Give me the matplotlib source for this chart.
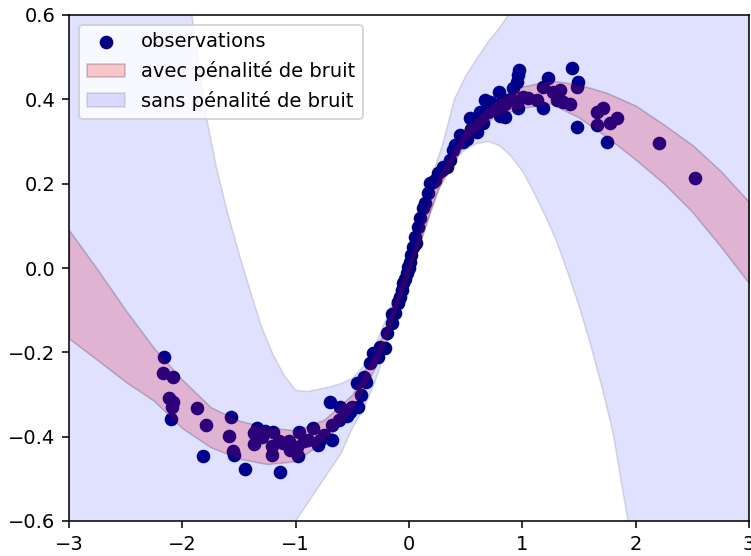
import matplotlib
matplotlib.use("Agg")
import matplotlib.pyplot as plt

# observations
x_obs = [-2.16, -2.17, -2.08, -2.115, -2.08, -2.094, -2.10, -1.87, -1.79, -1.82,
         -1.57, -1.59, -1.55, -1.54, -1.447, -1.344, -1.37, -1.37, -1.27, -1.197,
         -1.21, -1.21, -1.14, -1.11, -1.05, -0.977, -0.968, -0.99, -0.844, -0.89,
         -0.785, -0.80, -0.68, -0.68, -0.697, -0.61, -0.52, -0.447, -0.46, -0.40,
         -0.344, -0.314, -1.30, -1.15, -1.06, -0.93, -0.75, -0.62, -0.55, -0.50,
         -0.42, -0.38, -1.02,
         -0.27, -0.256, -0.212, -0.197, -0.153, -0.124, -0.094, -0.079, -0.064, -0.05,
         -0.035, -0.02, -0.006, 0.009, 0.02, 0.038, 0.053, 0.082, 0.097, 0.126,
         0.141, 0.17, 0.185, 0.215, 0.23, 0.259, 0.289, 0.333, 0.36, 0.39,
         0.406, 0.45, 0.509, 0.538, 0.597, 0.627, 0.656, 0.67, 0.715, 0.79,
         0.774, 0.847, 0.80, 0.862, 0.92, 0.95, 0.965, 0.974, 0.965, 1.009,
         1.053, 1.127, 1.186, 1.186, 1.23, 1.273, 1.303, 1.332, 1.362, 1.42,
         1.436, 1.48, 1.494, 1.48, 1.656, 1.715, 1.656, 1.745, 1.774, 1.833,
         2.21, 2.52, 0.55, 0.60, 0.70, 0.75, 0.85, 0.90, 0.48, -0.15,
         -0.10, 0.0, 0.06, 0.30]
y_obs = [-0.21, -0.25, -0.258, -0.309, -0.317, -0.329, -0.359, -0.333, -0.372, -0.447,
         -0.353, -0.398, -0.434, -0.443, -0.477, -0.38, -0.392, -0.417, -0.386, -0.388,
         -0.422, -0.443, -0.483, -0.416, -0.432, -0.447, -0.388, -0.424, -0.38, -0.408,
         -0.408, -0.42, -0.408, -0.372, -0.317, -0.329, -0.341, -0.329, -0.273, -0.258,
         -0.226, -0.202, -0.40, -0.41, -0.41, -0.41, -0.395, -0.36, -0.35, -0.33,
         -0.30, -0.27, -0.425,
         -0.21, -0.187, -0.19, -0.155, -0.131, -0.107, -0.084, -0.068, -0.052, -0.036,
         -0.025, -0.013, 0.003, 0.015, 0.03, 0.05, 0.074, 0.098, 0.118, 0.142,
         0.153, 0.177, 0.201, 0.205, 0.209, 0.225, 0.232, 0.24, 0.256, 0.28,
         0.292, 0.315, 0.307, 0.355, 0.323, 0.371, 0.343, 0.398, 0.394, 0.418,
         0.387, 0.359, 0.36, 0.398, 0.426, 0.442, 0.458, 0.47, 0.379, 0.406,
         0.402, 0.398, 0.379, 0.43, 0.45, 0.418, 0.398, 0.422, 0.394, 0.388,
         0.474, 0.43, 0.442, 0.335, 0.371, 0.379, 0.339, 0.30, 0.343, 0.355,
         0.297, 0.213, 0.33, 0.35, 0.37, 0.38, 0.39, 0.40, 0.30, -0.11,
         -0.08, 0.0, 0.06, 0.24]

# band "avec pénalité de bruit"
x_noise = [-3, -2.75, -2.5, -2.25, -2, -1.75, -1.5, -1.25, -1, -0.75, -0.5, -0.25, 0,
           0.25, 0.5, 0.75, 1, 1.25, 1.5, 1.75, 2, 2.25, 2.5, 2.75, 3]
upper_noise = [0.09, -0.003, -0.10, -0.19, -0.265, -0.33, -0.362, -0.378, -0.385, -0.36,
               -0.30, -0.17, 0.018, 0.215, 0.335, 0.395, 0.43, 0.445, 0.435, 0.415,
               0.385, 0.34, 0.292, 0.23, 0.157]
lower_noise = [-0.167, -0.218, -0.27, -0.315, -0.38, -0.425, -0.452, -0.465, -0.458, -0.41,
               -0.34, -0.21, -0.018, 0.185, 0.30, 0.36, 0.38, 0.39, 0.357, 0.31,
               0.257, 0.20, 0.133, 0.051, -0.036]

# band "sans pénalité de bruit"
x_free = [-3, -2.5, -2.0, -1.9, -1.8, -1.7, -1.6, -1.5, -1.4, -1.3, -1.2, -1.1, -1.0,
          -0.9, -0.8, -0.7, -0.6, -0.5, -0.4, -0.3, -0.2, -0.1, 0.0, 0.1, 0.2, 0.3,
          0.4, 0.5, 0.6, 0.7, 0.8, 0.9, 1.0, 1.1, 1.2, 1.3, 1.4, 1.5, 1.6, 1.7, 1.8,
          1.9, 2.0, 2.5, 3]
upper_free = [1.3, 1.0, 0.77, 0.57, 0.375, 0.24, 0.13, 0.035, -0.055, -0.14, -0.205,
              -0.255, -0.29, -0.293, -0.288, -0.282, -0.274, -0.262, -0.232, -0.185,
              -0.12, -0.045, 0.035, 0.125, 0.215, 0.296, 0.40, 0.455, 0.497, 0.537,
              0.57, 0.61, 0.65, 0.69, 0.73, 0.77, 0.81, 0.85, 0.89, 0.93, 0.97,
              1.0, 1.03, 1.2, 1.4]
lower_free = [-1.5, -1.2, -1.0, -0.95, -0.9, -0.85, -0.8, -0.75, -0.71, -0.68, -0.66,
              -0.63, -0.6, -0.56, -0.52, -0.48, -0.44, -0.38, -0.335, -0.27, -0.19,
              -0.105, -0.03, 0.06, 0.14, 0.21, 0.255, 0.282, 0.295, 0.30, 0.29,
              0.265, 0.23, 0.18, 0.125, 0.065, -0.01, -0.09, -0.18, -0.28, -0.39,
              -0.55, -0.7, -1.2, -1.6]

fig = plt.figure(figsize=(751 / 140, 556 / 140), dpi=140)
ax = fig.add_axes([69 / 751, 35 / 556, 680 / 751, 506 / 556])

ax.scatter(x_obs, y_obs, color='navy', label='observations')
ax.fill_between(x_noise, lower_noise, upper_noise, facecolor='r', edgecolor='k',
                linewidth=0.8, alpha=0.2, label='avec pénalité de bruit')
ax.fill_between(x_free, lower_free, upper_free, facecolor='b', edgecolor='k',
                linewidth=0.8, alpha=0.12, label='sans pénalité de bruit')

ax.set_xlim(-3, 3)
ax.set_ylim(-0.6, 0.6)
ax.legend(loc='upper left')

fig.savefig('out.png', dpi=140)
